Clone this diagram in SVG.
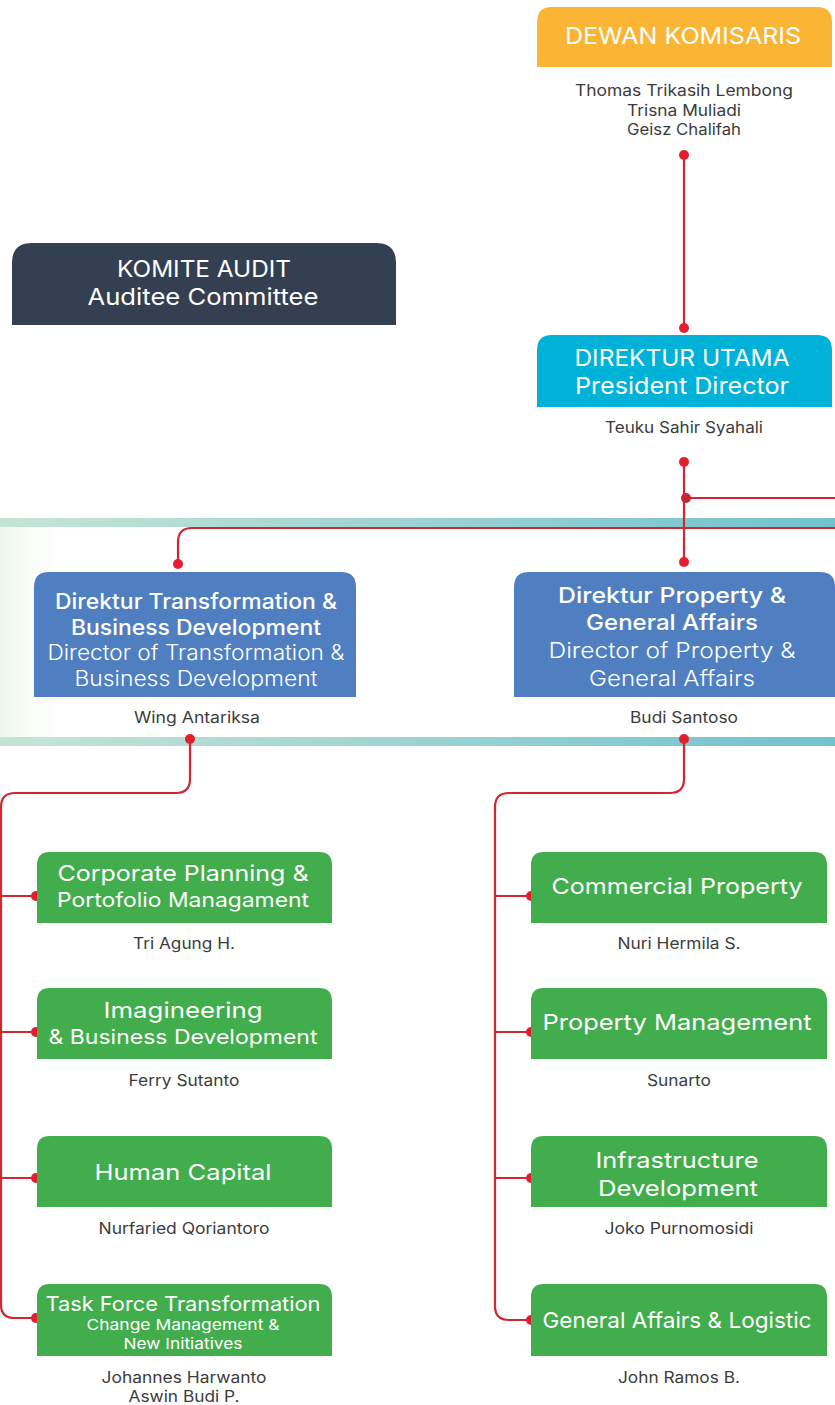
<svg xmlns="http://www.w3.org/2000/svg" width="835" height="1405" viewBox="0 0 835 1405">
<style>
text{font-family:Inter,"Open Sans","Noto Sans",sans-serif;text-anchor:middle}
.w{fill:#fff}
.h{font-size:23px}
.t22{font-size:22px}
.t21{font-size:21px}
.t20{font-size:20px}
.t15{font-size:15px}
.lt{font-weight:300}
.md{font-weight:500}
.nm{font-size:15.5px;fill:#3c3c3c;font-weight:400}
.ln{fill:none;stroke:#D22630;stroke-width:2.2}
.dot{fill:#E31E2D}
.g{fill:#42AD4C}
</style>
<defs>
<linearGradient id="band" x1="0" x2="1" y1="0" y2="0">
<stop offset="0" stop-color="#C6E4D6"/>
<stop offset="1" stop-color="#72C2CE"/>
</linearGradient>
<linearGradient id="fade" x1="0" x2="1" y1="0" y2="0">
<stop offset="0" stop-color="#EEF6EA"/>
<stop offset="1" stop-color="#fff" stop-opacity="0"/>
</linearGradient>
</defs>
<rect x="0" y="0" width="835" height="1405" fill="#fff"/>
<rect x="0" y="527" width="80" height="210" fill="url(#fade)"/>
<rect x="0" y="518" width="835" height="9" fill="url(#band)"/>
<rect x="0" y="737" width="835" height="9" fill="url(#band)"/>

<g id="connectors">
<path class="ln" d="M684 155V328"/>
<path class="ln" d="M684 462V562"/>
<path class="ln" d="M686 498H835"/>
<path class="ln" d="M835 528H192Q178 528 178 542V564"/>
<path class="ln" d="M190 739V779Q190 793 176 793H15Q1 793 1 807V1305Q1 1318 15 1318H36"/>
<path class="ln" d="M1 896H36M1 1032H36M1 1178H36"/>
<path class="ln" d="M684 739V779Q684 793 670 793H509Q495 793 495 807V1306Q495 1320 509 1320H531"/>
<path class="ln" d="M495 896H531M495 1032H531M495 1178H531"/>
<circle class="dot" cx="684" cy="155" r="5"/>
<circle class="dot" cx="684" cy="328" r="5"/>
<circle class="dot" cx="684" cy="462" r="5"/>
<circle cx="686" cy="498" r="5" fill="#C7252F"/>
<circle class="dot" cx="684" cy="562" r="5"/>
<circle class="dot" cx="178" cy="564" r="5"/>
<circle class="dot" cx="190" cy="739" r="5"/>
<circle class="dot" cx="684" cy="739" r="5"/>
<circle class="dot" cx="36" cy="896" r="5"/>
<circle class="dot" cx="36" cy="1032" r="5"/>
<circle class="dot" cx="36" cy="1178" r="5"/>
<circle class="dot" cx="36" cy="1318" r="5"/>
<circle class="dot" cx="531" cy="896" r="5"/>
<circle class="dot" cx="531" cy="1032" r="5"/>
<circle class="dot" cx="531" cy="1178" r="5"/>
<circle class="dot" cx="531" cy="1320" r="5"/>
</g>

<g id="dewan-komisaris">
<path d="M537 67V22Q537 7 552 7H817Q832 7 832 22V67Z" fill="#FBB534"/>
<text class="w h" x="683" y="44" textLength="236" lengthAdjust="spacingAndGlyphs">DEWAN KOMISARIS</text>
<text class="nm" x="684" y="96" textLength="218" lengthAdjust="spacingAndGlyphs">Thomas Trikasih Lembong</text>
<text class="nm" x="684" y="116" textLength="114" lengthAdjust="spacingAndGlyphs">Trisna Muliadi</text>
<text class="nm" x="684" y="135" textLength="114" lengthAdjust="spacingAndGlyphs">Geisz Chalifah</text>
</g>

<g id="komite-audit">
<path d="M12 325V263Q12 243 32 243H376Q396 243 396 263V325Z" fill="#343F52"/>
<text class="w h" x="204" y="277" textLength="174" lengthAdjust="spacingAndGlyphs">KOMITE AUDIT</text>
<text class="w h" x="203" y="305" textLength="231" lengthAdjust="spacingAndGlyphs">Auditee Committee</text>
</g>

<g id="direktur-utama">
<path d="M537 407V350Q537 335 552 335H817Q832 335 832 350V407Z" fill="#00B1D8"/>
<text class="w h" x="682" y="366" textLength="215" lengthAdjust="spacingAndGlyphs">DIREKTUR UTAMA</text>
<text class="w h" x="682" y="394" textLength="214" lengthAdjust="spacingAndGlyphs">President Director</text>
<text class="nm" x="684" y="433" textLength="158" lengthAdjust="spacingAndGlyphs">Teuku Sahir Syahali</text>
</g>

<g id="dir-transformation">
<path d="M34 697V587Q34 572 49 572H341Q356 572 356 587V697Z" fill="#4F7FC0"/>
<text class="w t21 md" x="196" y="609" textLength="282" lengthAdjust="spacingAndGlyphs">Direktur Transformation &amp;</text>
<text class="w t21 md" x="196" y="635" textLength="250" lengthAdjust="spacingAndGlyphs">Business Development</text>
<text class="w t21 lt" x="196" y="660" textLength="297" lengthAdjust="spacingAndGlyphs">Director of Transformation &amp;</text>
<text class="w t21 lt" x="196" y="686" textLength="243" lengthAdjust="spacingAndGlyphs">Business Development</text>
<text class="nm" x="197" y="723" textLength="126" lengthAdjust="spacingAndGlyphs">Wing Antariksa</text>
</g>

<g id="dir-property">
<path d="M514 697V587Q514 572 529 572H820Q835 572 835 587V697Z" fill="#4F7FC0"/>
<text class="w t22 md" x="672" y="603" textLength="228" lengthAdjust="spacingAndGlyphs">Direktur Property &amp;</text>
<text class="w t22 md" x="672" y="630" textLength="172" lengthAdjust="spacingAndGlyphs">General Affairs</text>
<text class="w t22 lt" x="672" y="658" textLength="247" lengthAdjust="spacingAndGlyphs">Director of Property &amp;</text>
<text class="w t22 lt" x="672" y="686" textLength="166" lengthAdjust="spacingAndGlyphs">General Affairs</text>
<text class="nm" x="684" y="723" textLength="108" lengthAdjust="spacingAndGlyphs">Budi Santoso</text>
</g>

<g id="corporate-planning">
<path class="g" d="M37 923V865Q37 852 50 852H319Q332 852 332 865V923Z"/>
<text class="w t22" x="183" y="881" textLength="251" lengthAdjust="spacingAndGlyphs">Corporate Planning &amp;</text>
<text class="w t20" x="183" y="907" textLength="252" lengthAdjust="spacingAndGlyphs">Portofolio Managament</text>
<text class="nm" x="184" y="949" textLength="102" lengthAdjust="spacingAndGlyphs">Tri Agung H.</text>
</g>

<g id="imagineering">
<path class="g" d="M37 1059V1001Q37 988 50 988H319Q332 988 332 1001V1059Z"/>
<text class="w t22" x="183" y="1018" textLength="159" lengthAdjust="spacingAndGlyphs">Imagineering</text>
<text class="w t20" x="183" y="1044" textLength="269" lengthAdjust="spacingAndGlyphs">&amp; Business Development</text>
<text class="nm" x="184" y="1086" textLength="111" lengthAdjust="spacingAndGlyphs">Ferry Sutanto</text>
</g>

<g id="human-capital">
<path class="g" d="M37 1207V1149Q37 1136 50 1136H319Q332 1136 332 1149V1207Z"/>
<text class="w t22" x="183" y="1180" textLength="177" lengthAdjust="spacingAndGlyphs">Human Capital</text>
<text class="nm" x="184" y="1234" textLength="171" lengthAdjust="spacingAndGlyphs">Nurfaried Qoriantoro</text>
</g>

<g id="task-force">
<path class="g" d="M37 1356V1297Q37 1284 50 1284H319Q332 1284 332 1297V1356Z"/>
<text class="w t20" x="183" y="1311" textLength="275" lengthAdjust="spacingAndGlyphs">Task Force Transformation</text>
<text class="w t15" x="183" y="1330" textLength="193" lengthAdjust="spacingAndGlyphs">Change Management &amp;</text>
<text class="w t15" x="183" y="1349" textLength="119" lengthAdjust="spacingAndGlyphs">New Initiatives</text>
<text class="nm" x="184" y="1383" textLength="165" lengthAdjust="spacingAndGlyphs">Johannes Harwanto</text>
<text class="nm" x="184" y="1402" textLength="111" lengthAdjust="spacingAndGlyphs">Aswin Budi P.</text>
</g>

<g id="commercial-property">
<path class="g" d="M531 923V865Q531 852 544 852H814Q827 852 827 865V923Z"/>
<text class="w t22" x="677" y="894" textLength="251" lengthAdjust="spacingAndGlyphs">Commercial Property</text>
<text class="nm" x="679" y="949" textLength="123" lengthAdjust="spacingAndGlyphs">Nuri Hermila S.</text>
</g>

<g id="property-management">
<path class="g" d="M531 1059V1001Q531 988 544 988H814Q827 988 827 1001V1059Z"/>
<text class="w t22" x="677" y="1030" textLength="269" lengthAdjust="spacingAndGlyphs">Property Management</text>
<text class="nm" x="679" y="1086" textLength="64" lengthAdjust="spacingAndGlyphs">Sunarto</text>
</g>

<g id="infrastructure">
<path class="g" d="M531 1207V1149Q531 1136 544 1136H814Q827 1136 827 1149V1207Z"/>
<text class="w t22" x="677" y="1168" textLength="163" lengthAdjust="spacingAndGlyphs">Infrastructure</text>
<text class="w t22" x="678" y="1196" textLength="160" lengthAdjust="spacingAndGlyphs">Development</text>
<text class="nm" x="679" y="1234" textLength="149" lengthAdjust="spacingAndGlyphs">Joko Purnomosidi</text>
</g>

<g id="general-affairs">
<path class="g" d="M531 1356V1297Q531 1284 544 1284H814Q827 1284 827 1297V1356Z"/>
<text class="w t22" x="677" y="1328" textLength="269" lengthAdjust="spacingAndGlyphs">General Affairs &amp; Logistic</text>
<text class="nm" x="679" y="1383" textLength="122" lengthAdjust="spacingAndGlyphs">John Ramos B.</text>
</g>
</svg>
